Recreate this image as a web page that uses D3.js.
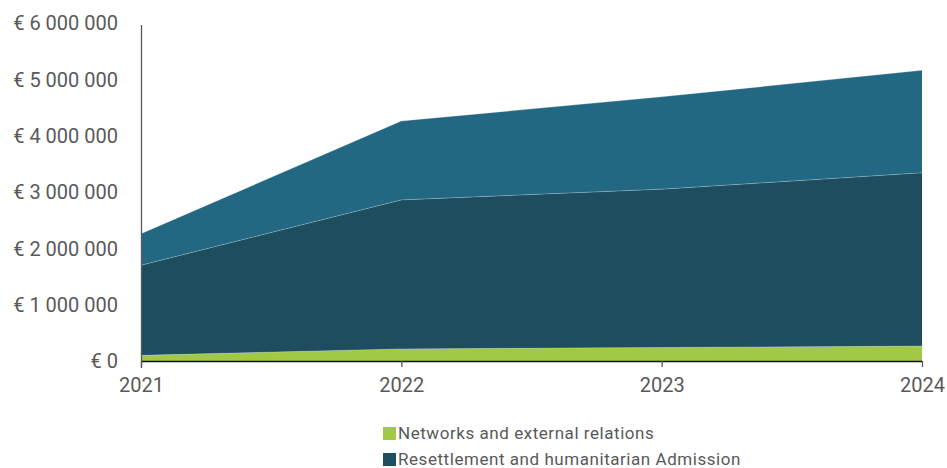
<!DOCTYPE html>
<html>
<head>
<meta charset="utf-8">
<script src="https://cdn.jsdelivr.net/npm/d3@7/dist/d3.min.js"></script>
<style>
  html, body { margin: 0; padding: 0; background: #fff; }
  svg { display: block; }
  svg text { font-family: Roboto, "Noto Sans", sans-serif; }
</style>
</head>
<body>
<svg id="chart" width="947" height="468"></svg>
<script>
// Funding per year, by programme strand (EUR)
const years = ["2021", "2022", "2023", "2024"];
const networks = [100000, 215000, 240000, 265000];
const resettlement = [1600000, 2645000, 2810000, 3075000];
const integration = [560000, 1400000, 1640000, 1820000];
const seriesNames = ["Networks and external relations", "Resettlement and humanitarian Admission", "Integration and legal pathways"];
const seriesColors = ["#a2c945", "#1f4d60", "#226882"];
const legendCount = 2;
const yTicks = [0, 1000000, 2000000, 3000000, 4000000, 5000000, 6000000];

const rows = years.map((y, i) => ({
  year: y,
  [seriesNames[0]]: networks[i],
  [seriesNames[1]]: resettlement[i],
  [seriesNames[2]]: integration[i]
}));

const svg = d3.select("#chart");
const margin = { left: 141, right: 25, top: 23, bottom: 107 };
const W = 947, H = 468;

const x = d3.scalePoint().domain(years).range([margin.left, W - margin.right]);
const y = d3.scaleLinear().domain([0, 6000000]).range([H - margin.bottom, margin.top]);

const stack = d3.stack().keys(seriesNames);
const layers = stack(rows);

const area = d3.area()
  .x(d => x(d.data.year))
  .y0(d => y(d[0]))
  .y1(d => y(d[1]));

svg.append("g").selectAll("path")
  .data(layers)
  .join("path")
  .attr("d", area)
  .attr("fill", (d, i) => seriesColors[i]);

// faint separators along each layer's upper edge
const edge = d3.line().x(d => x(d.data.year)).y(d => y(d[1]));
svg.append("g").selectAll("path")
  .data(layers)
  .join("path")
  .attr("d", edge)
  .attr("fill", "none")
  .attr("stroke", "rgba(255,255,255,0.3)")
  .attr("stroke-width", 0.8);

// y axis: labels only, plus the vertical rule
const fmt = v => "€ " + d3.format(",")(v).replace(/,/g, " ");
const yAxis = d3.axisLeft(y).tickValues(yTicks).tickSize(0).tickPadding(23).tickFormat(fmt);
const gy = svg.append("g").attr("transform", `translate(${margin.left},0)`).call(yAxis);
gy.attr("font-family", null);
gy.select(".domain").remove();
gy.selectAll("text").attr("fill", "#595959").style("font-size", "20px").attr("dy", "0.34em");

svg.append("line")
  .attr("x1", margin.left + 0.5).attr("x2", margin.left + 0.5)
  .attr("y1", margin.top + 2).attr("y2", H - margin.bottom + 7)
  .attr("stroke", "#595959").attr("stroke-width", 1.3);

// x axis
const xAxis = d3.axisBottom(x).tickSize(6).tickSizeOuter(0).tickPadding(11);
const gx = svg.append("g").attr("transform", `translate(0,${H - margin.bottom})`).call(xAxis);
gx.attr("font-family", null);
gx.select(".domain").attr("stroke", "#111").attr("stroke-width", 1.3);
gx.selectAll(".tick line").attr("stroke", "#595959").attr("stroke-width", 1.3);
gx.selectAll("text").attr("fill", "#595959").style("font-size", "20px");

// legend (the list continues below the visible area)
const legend = svg.append("g").attr("transform", "translate(383,424)");
const items = legend.selectAll("g")
  .data(seriesNames.slice(0, legendCount))
  .join("g")
  .attr("transform", (d, i) => `translate(0,${i * 26})`);
items.append("rect").attr("width", 13).attr("height", 13).attr("y", 3)
  .attr("fill", (d, i) => seriesColors[i]);
items.append("text").attr("x", 15).attr("y", 9.5).attr("dy", "0.35em")
  .attr("fill", "#595959").style("font-size", "17px").style("letter-spacing", "0.55px")
  .text(d => d);
</script>
</body>
</html>
